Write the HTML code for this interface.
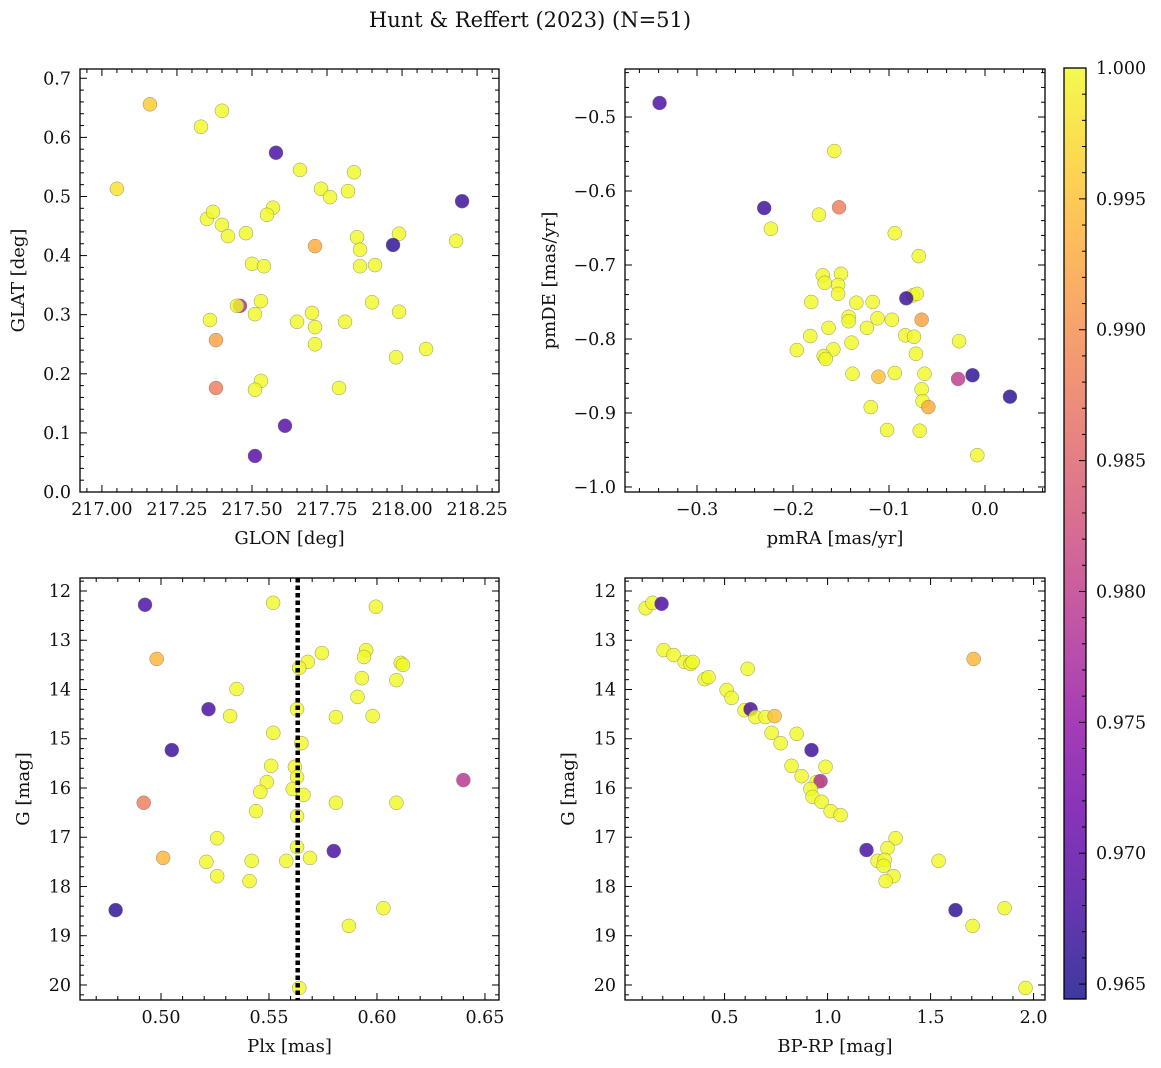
<!DOCTYPE html>
<html><head><meta charset="utf-8">
<style>
html,body{margin:0;padding:0;background:#fff;}
svg{display:block;font-family:"DejaVu Serif","Liberation Serif",serif;}
</style></head>
<body>
<svg id="fig" width="1161" height="1068" viewBox="0 0 1161 1068" xmlns="http://www.w3.org/2000/svg">
<text x="530" y="27" font-size="21" text-anchor="middle" fill="#111">Hunt &amp; Reffert (2023) (N=51)</text>
<defs>
<linearGradient id="plasma" x1="0" y1="1" x2="0" y2="0">
<stop offset="0" stop-color="#0d0887"/><stop offset="0.1" stop-color="#41049d"/><stop offset="0.2" stop-color="#6a00a8"/><stop offset="0.3" stop-color="#8f0da4"/><stop offset="0.4" stop-color="#b12a90"/><stop offset="0.5" stop-color="#cc4778"/><stop offset="0.6" stop-color="#e16462"/><stop offset="0.7" stop-color="#f2844b"/><stop offset="0.8" stop-color="#fca636"/><stop offset="0.9" stop-color="#fcce25"/><stop offset="1" stop-color="#f0f921"/>
</linearGradient>
</defs>
</svg>
<script>
// ---- Panel 1: GLON vs GLAT ----
const glon = [217.16,217.40,217.33,217.05,217.58,217.66,217.84,217.73,217.82,217.76,218.20,217.35,217.37,217.40,217.57,217.55,217.42,217.48,217.85,217.99,217.71,217.97,217.86,218.18,217.50,217.54,217.86,217.91,217.46,217.45,217.53,217.51,217.70,217.90,217.36,217.65,217.71,217.81,217.99,217.38,217.71,218.08,217.98,217.53,217.51,217.38,217.79,217.61,217.51];
const glat = [0.656,0.645,0.618,0.513,0.574,0.545,0.541,0.513,0.509,0.499,0.492,0.462,0.474,0.452,0.481,0.469,0.433,0.438,0.431,0.437,0.416,0.418,0.41,0.425,0.386,0.382,0.382,0.384,0.315,0.315,0.323,0.301,0.303,0.321,0.291,0.288,0.279,0.288,0.305,0.257,0.25,0.242,0.228,0.188,0.173,0.176,0.176,0.112,0.061];
const prob1 = [0.996,1,1,0.998,0.968,1,1,1,1,1,0.967,1,1,1,1,1,1,1,1,1,0.993,0.966,1,1,1,1,1,1,0.978,1,1,1,1,1,1,1,1,1,1,0.992,1,1,1,1,1,0.988,1,0.969,0.969];
// ---- Panel 2: pmRA vs pmDE ----
const pmra = [-0.339,-0.157,-0.230,-0.152,-0.173,-0.223,-0.094,-0.069,-0.169,-0.150,-0.167,-0.153,-0.153,-0.075,-0.071,-0.082,-0.181,-0.134,-0.117,-0.142,-0.142,-0.112,-0.097,-0.123,-0.066,-0.163,-0.083,-0.074,-0.182,-0.139,-0.027,-0.158,-0.196,-0.072,-0.168,-0.166,-0.138,-0.094,-0.063,-0.111,-0.028,-0.013,-0.066,0.026,-0.065,-0.059,-0.119,-0.102,-0.068,-0.008];
const pmde = [-0.481,-0.546,-0.623,-0.622,-0.632,-0.651,-0.657,-0.688,-0.714,-0.712,-0.724,-0.727,-0.739,-0.741,-0.739,-0.745,-0.750,-0.751,-0.750,-0.770,-0.776,-0.772,-0.774,-0.785,-0.774,-0.785,-0.795,-0.797,-0.796,-0.805,-0.803,-0.814,-0.815,-0.820,-0.823,-0.827,-0.847,-0.846,-0.847,-0.851,-0.854,-0.849,-0.868,-0.878,-0.884,-0.892,-0.892,-0.923,-0.924,-0.957];
const prob2 = [0.968,1,0.967,0.988,1,1,1,1,1,1,1,1,1,1,1,0.967,1,1,1,1,1,1,1,1,0.992,1,1,1,1,1,1,1,1,1,1,1,1,1,1,0.995,0.980,0.966,1,0.966,1,0.993,1,1,1,1];
// ---- Panel 3: Plx vs G ----
const plx = [0.4926,0.5519,0.5995,0.498,0.5745,0.595,0.594,0.568,0.564,0.611,0.612,0.593,0.609,0.535,0.522,0.563,0.591,0.532,0.581,0.598,0.552,0.565,0.505,0.551,0.562,0.549,0.563,0.640,0.546,0.561,0.566,0.492,0.581,0.609,0.544,0.563,0.526,0.563,0.580,0.501,0.569,0.521,0.542,0.558,0.526,0.541,0.479,0.603,0.587,0.564];
const gmag3 = [12.28,12.24,12.32,13.38,13.26,13.20,13.34,13.44,13.56,13.46,13.50,13.77,13.81,13.99,14.40,14.40,14.15,14.54,14.56,14.54,14.88,15.09,15.23,15.55,15.57,15.88,15.78,15.84,16.08,16.02,16.14,16.30,16.30,16.30,16.47,16.57,17.02,17.20,17.28,17.42,17.42,17.50,17.48,17.48,17.79,17.89,18.48,18.44,18.80,20.06];
const prob3 = [0.968,1,1,0.994,1,1,1,1,1,1,1,1,1,1,0.968,1,1,1,1,1,1,1,0.967,1,1,1,1,0.979,1,1,1,0.988,1,1,1,1,1,1,0.968,0.994,1,1,1,1,1,1,0.966,1,1,1];
// ---- Panel 4: BP-RP vs G ----
const bprp = [0.117,0.150,0.194,0.204,0.252,0.306,0.335,0.345,1.709,0.612,0.403,0.422,0.510,0.534,0.597,0.626,0.650,0.699,0.743,0.728,0.772,0.850,0.922,0.825,0.990,0.874,0.947,0.966,0.917,0.927,0.971,1.015,1.063,1.189,1.330,1.291,1.243,1.277,1.272,1.320,1.282,1.539,1.621,1.859,1.704,1.961];
const gmag4 = [12.35,12.24,12.26,13.20,13.30,13.44,13.48,13.44,13.38,13.58,13.79,13.75,14.01,14.17,14.42,14.40,14.56,14.56,14.54,14.88,15.09,14.90,15.23,15.55,15.57,15.76,15.88,15.86,16.02,16.18,16.28,16.47,16.55,17.26,17.02,17.22,17.48,17.46,17.58,17.79,17.89,17.48,18.48,18.44,18.80,20.06];
const prob4 = [1,1,0.968,1,1,1,1,1,0.994,1,1,1,1,1,1,0.968,1,1,0.995,1,1,1,0.967,1,1,1,1,0.978,1,1,1,1,1,0.968,1,1,1,1,1,1,1,1,0.966,1,1,1];
const cbTicks = [0.965,0.970,0.975,0.980,0.985,0.990,0.995,1.000];

const NS='http://www.w3.org/2000/svg';
const svg=document.getElementById('fig');
function mk(tag,attrs,parent){const e=document.createElementNS(NS,tag);for(const k in attrs)e.setAttribute(k,attrs[k]);(parent||svg).appendChild(e);return e;}
const VMIN=0.96443,VMAX=1.0;
const stops=['#0d0887','#41049d','#6a00a8','#8f0da4','#b12a90','#cc4778','#e16462','#f2844b','#fca636','#fcce25','#f0f921'];
function hex(h){return [parseInt(h.substr(1,2),16),parseInt(h.substr(3,2),16),parseInt(h.substr(5,2),16)];}
function cmap(p){let t=(p-VMIN)/(VMAX-VMIN);t=Math.max(0,Math.min(1,t));const f=t*10;const i=Math.min(9,Math.floor(f));const r=f-i;const a=hex(stops[i]),b=hex(stops[i+1]);return 'rgb('+a.map((v,k)=>Math.round(v+(b[k]-v)*r)).join(',')+')';}
const TF=17.5, LF=18;
function panel(cfg){
  const {name,x0,x1,y0,y1,xd,yd,xMajor,xMinor,yMajor,yMinor,xfmt,yfmt,xlabel,ylabel,xs,ys,ps,invert}=cfg;
  const g=mk('g',{});
  
  
  const sx=v=>x0+(v-xd[0])/(xd[1]-xd[0])*(x1-x0);
  const sy=v=>invert? y0+(v-yd[0])/(yd[1]-yd[0])*(y1-y0) : y1-(v-yd[0])/(yd[1]-yd[0])*(y1-y0);
  const pts=mk('g',{},g);
  
  
  for(let i=0;i<xs.length;i++){
    const c=mk('circle',{cx:sx(xs[i]),cy:sy(ys[i]),r:7,fill:cmap(ps[i]),'fill-opacity':0.8,stroke:'#777','stroke-width':0.5,'stroke-opacity':0.8},pts);
    
    
  }
  if(cfg.extra) cfg.extra(g,sx,sy);
  const fr=mk('rect',{x:x0,y:y0,width:x1-x0,height:y1-y0,fill:'none',stroke:'#000','stroke-width':1.3},g);
  
  
  const tk=mk('g',{stroke:'#000','stroke-width':1},g);
  const lo=Math.min(xd[0],xd[1]),hi=Math.max(xd[0],xd[1]);
  for(let v=Math.ceil(lo/xMinor-1e-6)*xMinor;v<=hi+1e-9;v+=xMinor){
    const X=sx(v);const maj=Math.abs(v/xMajor-Math.round(v/xMajor))<1e-3;const L=maj?7:4;
    mk('line',{x1:X,x2:X,y1:y1,y2:y1-L},tk);mk('line',{x1:X,x2:X,y1:y0,y2:y0+L},tk);
    if(maj){const t=mk('text',{x:X,y:y1+23,'font-size':TF,'text-anchor':'middle',fill:'#111',stroke:'none'},g);t.textContent=xfmt(v);
      
      }
  }
  const ylo=Math.min(yd[0],yd[1]),yhi=Math.max(yd[0],yd[1]);
  for(let v=Math.ceil(ylo/yMinor-1e-6)*yMinor;v<=yhi+1e-9;v+=yMinor){
    const Y=sy(v);const maj=Math.abs(v/yMajor-Math.round(v/yMajor))<1e-3;const L=maj?7:4;
    mk('line',{x1:x0,x2:x0+L,y1:Y,y2:Y},tk);mk('line',{x1:x1,x2:x1-L,y1:Y,y2:Y},tk);
    if(maj){const t=mk('text',{x:x0-9,y:Y+6,'font-size':TF,'text-anchor':'end',fill:'#111',stroke:'none'},g);t.textContent=yfmt(v);
      
      }
  }
  const xl=mk('text',{x:(x0+x1)/2,y:y1+52,'font-size':LF,'text-anchor':'middle',fill:'#111'},g);xl.textContent=xlabel;
  
  
  const yx=cfg.ylx;
  const yl=mk('text',{x:yx,y:(y0+y1)/2,'font-size':LF,'text-anchor':'middle',fill:'#111',transform:'rotate(-90 '+yx+' '+((y0+y1)/2)+')'},g);yl.textContent=ylabel;
  
  
}
const f=(d)=>v=>{let s=v.toFixed(d);if(s==='-0.0')s='0.0';return s.replace('-','\u2212');};
panel({name:'glon-glat-panel',x0:80,x1:499,y0:69,y1:492,xd:[216.927,218.323],yd:[0,0.7157],xMajor:0.25,xMinor:0.05,yMajor:0.1,yMinor:0.02,xfmt:f(2),yfmt:f(1),xlabel:'GLON [deg]',ylabel:'GLAT [deg]',xs:glon,ys:glat,ps:prob1,ylx:24});
panel({name:'pm-panel',x0:625,x1:1045,y0:69,y1:492,xd:[-0.375,0.0625],yd:[-1.0068,-0.4351],xMajor:0.1,xMinor:0.02,yMajor:0.1,yMinor:0.02,xfmt:f(1),yfmt:f(1),xlabel:'pmRA [mas/yr]',ylabel:'pmDE [mas/yr]',xs:pmra,ys:pmde,ps:prob2,ylx:555});
panel({name:'plx-g-panel',x0:80,x1:499,y0:578,y1:1000,xd:[0.4625,0.6565],yd:[11.736,20.305],invert:true,xMajor:0.05,xMinor:0.01,yMajor:1,yMinor:0.2,xfmt:f(2),yfmt:f(0),xlabel:'Plx [mas]',ylabel:'G [mag]',xs:plx,ys:gmag3,ps:prob3,ylx:29,
  extra:(g,sx,sy)=>{const l=mk('line',{x1:sx(0.5633),x2:sx(0.5633),y1:578,y2:1000,stroke:'#000','stroke-width':4.5,'stroke-dasharray':'4.5,3'},g);
    
    }});
panel({name:'cmd-panel',x0:625,x1:1045,y0:578,y1:1000,xd:[0.0165,2.0555],yd:[11.736,20.305],invert:true,xMajor:0.5,xMinor:0.1,yMajor:1,yMinor:0.2,xfmt:f(1),yfmt:f(0),xlabel:'BP-RP [mag]',ylabel:'G [mag]',xs:bprp,ys:gmag4,ps:prob4,ylx:574});

// colorbar
const cb=mk('g',{});


const CX0=1064,CX1=1086,CY0=68,CY1=999;
mk('rect',{x:CX0,y:CY0,width:CX1-CX0,height:CY1-CY0,fill:'url(#plasma)','fill-opacity':0.8},cb);
mk('rect',{x:CX0,y:CY0,width:CX1-CX0,height:CY1-CY0,fill:'none',stroke:'#000','stroke-width':1.3},cb);
const cy=v=>CY1-(v-VMIN)/(VMAX-VMIN)*(CY1-CY0);
for(let k=965;k<=1000;k++){const v=k/1000;const Y=cy(v);const maj=k%5===0;
  mk('line',{x1:CX1,x2:CX1-(maj?7:4),y1:Y,y2:Y,stroke:'#000','stroke-width':1},cb);
}
cbTicks.forEach(v=>{const t=mk('text',{x:CX1+10,y:cy(v)+6,'font-size':TF,fill:'#111'},cb);t.textContent=v.toFixed(3);
  
  });
</script>
</body></html>
